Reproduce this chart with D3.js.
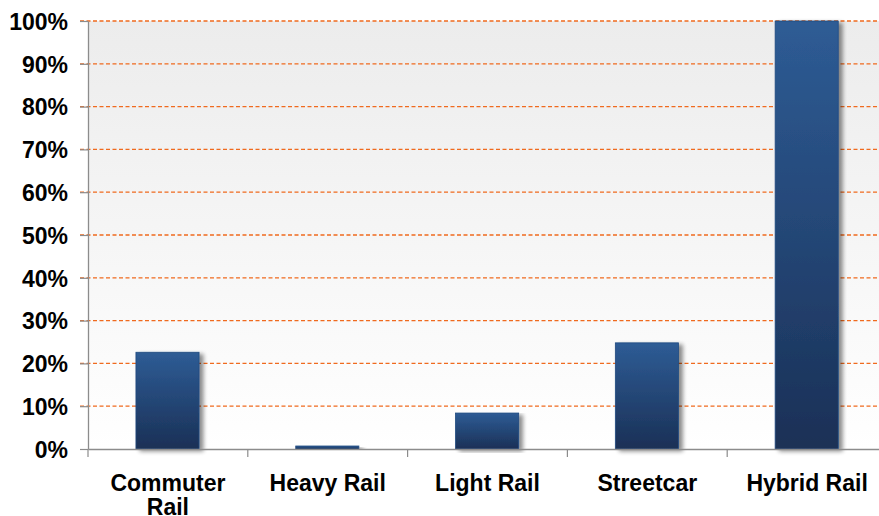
<!DOCTYPE html>
<html>
<head>
<meta charset="utf-8">
<script src="https://cdn.jsdelivr.net/npm/d3@7/dist/d3.min.js"></script>
<style>
  html, body { margin: 0; padding: 0; background: #ffffff; }
  svg { display: block; }
  text { font-family: "Liberation Sans", Arial, sans-serif; font-weight: bold; fill: #000; }
</style>
</head>
<body>
<svg id="chart" width="879" height="516"></svg>
<script>
// Share of each rail mode (percent)
const categories = ["Commuter Rail", "Heavy Rail", "Light Rail", "Streetcar", "Hybrid Rail"];
const values = [22.6, 0.7, 8.4, 24.8, 100];
const yTicks = [0, 10, 20, 30, 40, 50, 60, 70, 80, 90, 100];

const svg = d3.select("#chart");
const W = 879, H = 516;
const x0 = 88, x1 = 887;

const x = d3.scaleBand().domain(categories).range([x0, x1]).paddingInner(0).paddingOuter(0);
const y = d3.scaleLinear().domain([0, 100]).range([449, 21]);

const defs = svg.append("defs");
const bg = defs.append("linearGradient").attr("id", "plotBg").attr("x1", 0).attr("y1", 0).attr("x2", 0).attr("y2", 1);
bg.append("stop").attr("offset", "0%").attr("stop-color", "#ececec");
bg.append("stop").attr("offset", "100%").attr("stop-color", "#ffffff");

const barGrad = defs.append("linearGradient").attr("id", "barFill").attr("x1", 0).attr("y1", 0).attr("x2", 0).attr("y2", 1);
barGrad.append("stop").attr("offset", "0%").attr("stop-color", "#2e5c95");
barGrad.append("stop").attr("offset", "100%").attr("stop-color", "#1a3056");

const shadow = defs.append("filter").attr("id", "barShadow").attr("x", "-20%").attr("y", "-5%").attr("width", "150%").attr("height", "115%");
shadow.append("feGaussianBlur").attr("in", "SourceAlpha").attr("stdDeviation", 2.2).attr("result", "blur");
shadow.append("feOffset").attr("in", "blur").attr("dx", 4).attr("dy", 2).attr("result", "off");
shadow.append("feComponentTransfer").attr("in", "off").attr("result", "soft")
  .append("feFuncA").attr("type", "linear").attr("slope", 0.45);
const merge = shadow.append("feMerge");
merge.append("feMergeNode").attr("in", "soft");
merge.append("feMergeNode").attr("in", "SourceGraphic");

// plot background
svg.append("rect")
  .attr("x", x0).attr("y", y(100))
  .attr("width", x1 - x0).attr("height", y(0) - y(100))
  .attr("fill", "url(#plotBg)");

// horizontal dashed gridlines
svg.append("g").selectAll("line")
  .data(yTicks.filter(d => d > 0))
  .join("line")
  .attr("x1", x0 - 8).attr("x2", x1)
  .attr("y1", d => y(d)).attr("y2", d => y(d))
  .attr("stroke", "#f06a1e")
  .attr("stroke-width", 1.3)
  .attr("stroke-dasharray", "4,2.5");

// bars
svg.append("g").selectAll("rect")
  .data(categories.map((c, i) => ({ c, v: values[i] })))
  .join("rect")
  .attr("x", d => x(d.c) + x.bandwidth() * 0.3)
  .attr("width", x.bandwidth() * 0.395)
  .attr("y", d => y(d.v))
  .attr("height", d => y(0) - y(d.v))
  .attr("fill", "url(#barFill)")
  .attr("stroke", "#1f4a80")
  .attr("stroke-width", 0.8)
  .attr("filter", "url(#barShadow)");

// y axis
const yAxis = d3.axisLeft(y).tickValues(yTicks).tickFormat(d => d + "%").tickSize(8).tickSizeOuter(0);
const gy = svg.append("g").attr("transform", `translate(${x0},0)`).call(yAxis);
gy.select(".domain").attr("stroke", "#8c8c8c").attr("stroke-width", 1.3);
gy.selectAll(".tick line").attr("stroke", "#8c8c8c").attr("stroke-width", 1.2);
gy.selectAll(".tick text")
  .attr("x", -20)
  .attr("dy", "0.36em")
  .style("font-size", "23px")
  .style("font-family", "'Liberation Sans', Arial, sans-serif")
  .style("font-weight", "bold")
  .attr("fill", "#000");

// x axis
const xAxis = d3.axisBottom(x).tickSize(0).tickFormat("");
const gx = svg.append("g").attr("transform", `translate(0,${y(0)})`).call(xAxis);
gx.select(".domain").attr("stroke", "#8c8c8c").attr("stroke-width", 1.3);
// category separators below the baseline
svg.append("g").selectAll("line")
  .data(categories)
  .join("line")
  .attr("x1", d => x(d)).attr("x2", d => x(d))
  .attr("y1", y(0)).attr("y2", y(0) + 8)
  .attr("stroke", "#8c8c8c").attr("stroke-width", 1.2);

// category labels (wrapped to fit the band)
const labelLines = { "Commuter Rail": ["Commuter", "Rail"] };
const lbl = svg.append("g").selectAll("text")
  .data(categories)
  .join("text")
  .attr("text-anchor", "middle")
  .attr("x", d => x(d) + x.bandwidth() / 2)
  .attr("y", 491)
  .style("font-size", "23px");
lbl.each(function(d) {
  const lines = labelLines[d] || [d];
  const t = d3.select(this);
  lines.forEach((ln, i) => {
    t.append("tspan").attr("x", x(d) + x.bandwidth() / 2).attr("dy", i === 0 ? 0 : 24).text(ln);
  });
});
</script>
</body>
</html>
